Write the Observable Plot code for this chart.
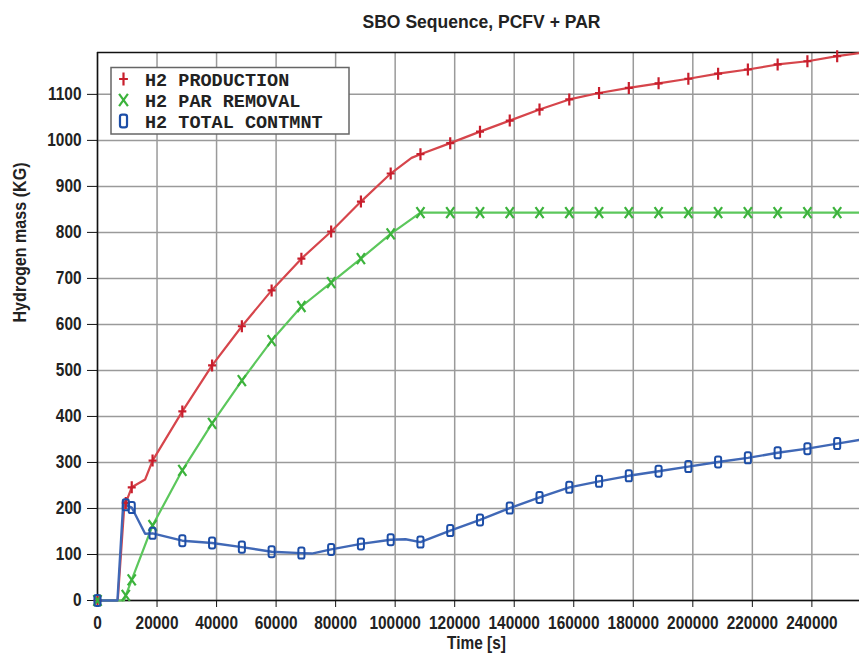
<!DOCTYPE html>
<html>
<head>
<meta charset="utf-8">
<script src="https://cdn.jsdelivr.net/npm/d3@7"></script>
<script src="https://cdn.jsdelivr.net/npm/@observablehq/plot@0.6"></script>
<style>
  html, body { margin: 0; padding: 0; background: #fff; }
  #chart svg { display: block; }
</style>
</head>
<body>
<div id="chart"></div>
<script>
const title = "SBO Sequence, PCFV + PAR";
const xLabel = "Time [s]";
const yLabel = "Hydrogen mass (KG)";
const xMax = 256000;
const yMax = 1191;
const xTicks = [0, 20000, 40000, 60000, 80000, 100000, 120000, 140000, 160000, 180000, 200000, 220000, 240000];
const yTicks = [0, 100, 200, 300, 400, 500, 600, 700, 800, 900, 1000, 1100];

const seriesNames = ["H2 PRODUCTION", "H2 PAR REMOVAL", "H2 TOTAL CONTMNT"];

// times at which the markers sit (s)
const markerTimes = [0, 9500, 11500, 18500, 28500, 38500, 48500, 58500, 68500, 78500, 88500, 98500, 108500,
  118500, 128500, 138500, 148500, 158500, 168500, 178500, 188500, 198500, 208500, 218500, 228500, 238500, 248500];

// values at the markers (kg)
const productionValues = [0, 212, 246, 304, 411, 511, 596, 674, 743, 802, 867, 928, 970,
  994, 1019, 1043, 1067, 1089, 1103, 1114, 1124, 1134, 1145, 1154, 1165, 1172, 1183];
const parRemovalValues = [0, 11, 45, 163, 283, 385, 478, 565, 639, 691, 743, 797, 843,
  843, 843, 843, 843, 843, 843, 843, 843, 843, 843, 843, 843, 843, 843];
const containmentValues = [0, 208, 202, 146, 130, 125, 116, 106, 103, 111, 123, 132, 127,
  152, 175, 201, 224, 246, 259, 271, 281, 291, 301, 310, 321, 330, 341];

// additional curve points between markers [time, value]
const productionExtra = [[6800, 0], [9000, 205], [16000, 263], [105500, 962], [256000, 1190]];
const parRemovalExtra = [[8900, 0], [256000, 843]];
const containmentExtra = [[6700, 0], [8700, 217], [16000, 145], [72000, 102], [103500, 133], [256000, 349]];

const lineColors = ["#d6454b", "#5cc75c", "#4068b6"];
const markColors = ["#c81e2c", "#3cb33c", "#1d4ea7"];

function build(name, vals, extra) {
  const markers = markerTimes.map((t, i) => ({t, v: vals[i], s: name}));
  const line = markers.concat(extra.map(([t, v]) => ({t, v, s: name}))).sort((a, b) => a.t - b.t);
  return {markers, line};
}
const prod = build(seriesNames[0], productionValues, productionExtra);
const par = build(seriesNames[1], parRemovalValues, parRemovalExtra);
const tot = build(seriesNames[2], containmentValues, containmentExtra);

// custom marker shapes
const plusSym = k => ({draw(c) { const h = 6 * k, w = 4 * k; c.moveTo(0, -h); c.lineTo(0, h); c.moveTo(-w, 0); c.lineTo(w, 0); }});
const timesSym = k => ({draw(c) { const h = 5.5 * k, w = 4 * k; c.moveTo(-w, -h); c.lineTo(w, h); c.moveTo(w, -h); c.lineTo(-w, h); }});
const boxSym = k => ({draw(c) {
  const w = 3.2 * k, h = 5.8 * k, r = 2 * k;
  c.moveTo(-w + r, -h); c.lineTo(w - r, -h); c.arcTo(w, -h, w, -h + r, r);
  c.lineTo(w, h - r); c.arcTo(w, h, w - r, h, r);
  c.lineTo(-w + r, h); c.arcTo(-w, h, -w, h - r, r);
  c.lineTo(-w, -h + r); c.arcTo(-w, -h, -w + r, -h, r); c.closePath();
}});

const font = "'Liberation Sans', Arial, sans-serif";

const chart = Plot.plot({
  width: 859,
  height: 659,
  marginLeft: 97,
  marginRight: 0,
  marginTop: 52,
  marginBottom: 59,
  x: {domain: [0, xMax]},
  y: {domain: [0, yMax]},
  style: {fontFamily: font, fontSize: "17.5px", fontWeight: "bold", color: "#222", background: "#fff", overflow: "visible"},
  marks: [
    Plot.gridX(xTicks, {stroke: "#9a9a9a", strokeOpacity: 1, strokeWidth: 1.5}),
    Plot.gridY(yTicks, {stroke: "#9a9a9a", strokeOpacity: 1, strokeWidth: 1.5}),
    Plot.ruleX([0], {stroke: "#111", strokeWidth: 1.5}),
    Plot.ruleY([0], {stroke: "#111", strokeWidth: 1.5}),
    Plot.ruleY([yMax], {stroke: "#111", strokeWidth: 1.5}),
    Plot.axisX({ticks: xTicks, tickSize: 7, tickPadding: 9, tickFormat: d3.format("d"), label: null, stroke: "#111"}),
    Plot.axisY({ticks: yTicks, tickSize: 10, tickPadding: 6, tickFormat: d3.format("d"), label: null, stroke: "#111"}),
    Plot.line(prod.line, {x: "t", y: "v", stroke: lineColors[0], strokeWidth: 2.2}),
    Plot.line(par.line, {x: "t", y: "v", stroke: lineColors[1], strokeWidth: 2.2}),
    Plot.line(tot.line, {x: "t", y: "v", stroke: lineColors[2], strokeWidth: 2.4}),
    Plot.dot(prod.markers, {x: "t", y: "v", symbol: plusSym(1), fill: "none", stroke: markColors[0], strokeWidth: 2.2}),
    Plot.dot(par.markers, {x: "t", y: "v", symbol: timesSym(1), fill: "none", stroke: markColors[1], strokeWidth: 2.2}),
    Plot.dot(tot.markers, {x: "t", y: "v", symbol: boxSym(0.95), fill: "none", stroke: markColors[2], strokeWidth: 2}),
    Plot.text([title], {frameAnchor: "top", dx: 3, dy: -37, fontSize: 17.5, fill: "#222"}),
    Plot.text([xLabel], {frameAnchor: "bottom", dx: -2, dy: 48, fontSize: 17.5, fill: "#222"}),
    Plot.text([yLabel], {frameAnchor: "left", dx: -77, dy: -4, rotate: -90, fontSize: 17.5, fill: "#222"})
  ]
});
document.getElementById("chart").appendChild(chart);

// condense the sans-serif texts (the reference uses a narrow face)
const svg = d3.select(chart);
svg.selectAll("text").each(function() {
  const t = this.textContent;
  const len = this.getComputedTextLength();
  let target = len * 0.88;
  if (t === title) target = 238;
  if (t === yLabel) target = 160;
  this.setAttribute("textLength", target);
  this.setAttribute("lengthAdjust", "spacingAndGlyphs");
});

// legend
const lg = svg.append("g").attr("text-anchor", "start");
lg.append("rect").attr("x", 111).attr("y", 67.5).attr("width", 238).attr("height", 66.5)
  .attr("fill", "#fff").attr("stroke", "#666").attr("stroke-width", 1.5);
const legendSyms = [plusSym(1.1), timesSym(1.1), boxSym(1.1)];
seriesNames.forEach((name, i) => {
  const y = 79 + i * 21;
  lg.append("path").attr("d", d3.symbol(legendSyms[i])()).attr("transform", `translate(123.5,${y})`)
    .attr("fill", "none").attr("stroke", markColors[i]).attr("stroke-width", 2.2);
  lg.append("text").attr("x", 145).attr("y", y).attr("dy", "0.36em").attr("text-anchor", "start")
    .attr("font-family", "'Liberation Mono', 'Courier New', monospace").attr("font-size", 18.5)
    .attr("font-weight", "bold").attr("fill", "#222").text(name);
});
</script>
</body>
</html>
